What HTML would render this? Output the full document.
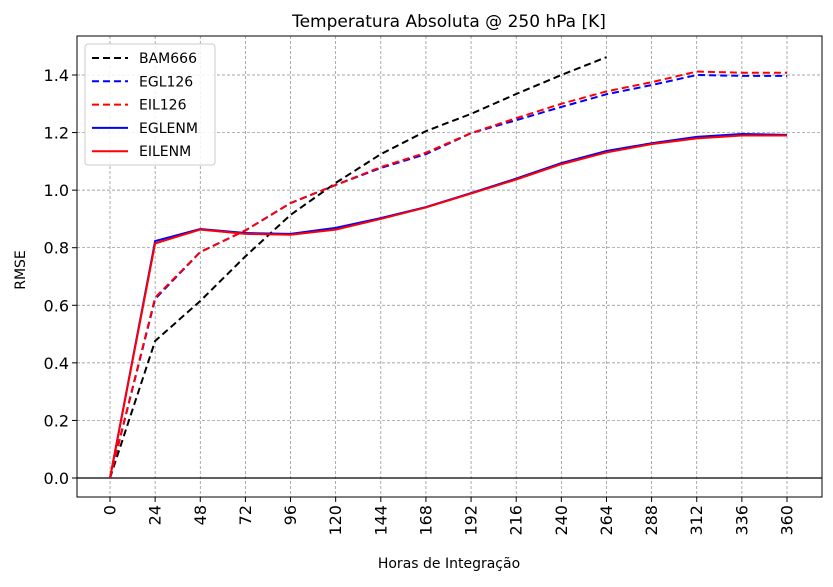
<!DOCTYPE html>
<html><head><meta charset="utf-8"><style>
body{margin:0;background:#fff;font-family:"Liberation Sans","DejaVu Sans",sans-serif}
svg text{font-family:"DejaVu Sans","Liberation Sans",sans-serif}
</style></head><body>
<svg id="c" width="833" height="582" xmlns="http://www.w3.org/2000/svg"></svg>
<script>
const hours=[0,24,48,72,96,120,144,168,192,216,240,264,288,312,336,360];
const yTicks=[0,0.2,0.4,0.6,0.8,1.0,1.2,1.4];
const bam666=[0,0.476,0.615,0.77,0.914,1.025,1.125,1.205,1.265,1.334,1.40,1.462];
const egl126=[0,0.622,0.785,0.86,0.955,1.018,1.077,1.125,1.198,1.243,1.289,1.333,1.365,1.40,1.397,1.397];
const eil126=[0,0.627,0.785,0.86,0.955,1.018,1.08,1.13,1.198,1.25,1.30,1.343,1.375,1.412,1.408,1.408];
const eglenm=[0,0.823,0.865,0.851,0.848,0.869,0.903,0.941,0.99,1.04,1.094,1.136,1.163,1.185,1.195,1.192];
const eilenm=[0,0.815,0.863,0.848,0.845,0.863,0.90,0.94,0.988,1.037,1.09,1.131,1.16,1.18,1.19,1.19];
const L=77,R=822,T=36,B=497;
const x=h=>110+h*(677/360);
const y=v=>478-v*287.86;
const svg=document.getElementById('c');
const NS='http://www.w3.org/2000/svg';
function el(tag,attrs,parent){const e=document.createElementNS(NS,tag);for(const k in attrs)e.setAttribute(k,attrs[k]);(parent||svg).appendChild(e);return e;}
// grid
hours.forEach(h=>{const g=el('line',{x1:x(h),x2:x(h),y1:T,y2:B,stroke:'#888','stroke-width':0.7,'stroke-dasharray':'3,2'});

});
yTicks.forEach(v=>{const g=el('line',{x1:L,x2:R,y1:y(v),y2:y(v),stroke:'#888','stroke-width':0.7,'stroke-dasharray':'3,2'});

});
const zl=el('line',{x1:L,x2:R,y1:y(0),y2:y(0),stroke:'#000','stroke-width':1.2});


// ticks
hours.forEach(h=>{el('line',{x1:x(h),x2:x(h),y1:B,y2:B+5,stroke:'#000'});
const t=el('text',{x:0,y:0,'font-size':16,'text-anchor':'end','dominant-baseline':'central',transform:`translate(${x(h)},${B+8}) rotate(-90)`});t.textContent=h;

});
yTicks.forEach(v=>{el('line',{x1:L-5,x2:L,y1:y(v),y2:y(v),stroke:'#000'});
const t=el('text',{x:L-8,y:y(v)+6,'font-size':16,'text-anchor':'end'});t.textContent=v.toFixed(1);

});
// series
const series=[[bam666,'#000',true,'series-bam666'],[egl126,'#00f',true,'series-egl126'],[eil126,'#f00',true,'series-eil126'],[eglenm,'#00f',false,'series-eglenm'],[eilenm,'#f00',false,'series-eilenm']];
series.forEach(([d,c,dash,n])=>{const p=el('polyline',{points:d.map((v,i)=>x(hours[i])+','+y(v)).join(' '),fill:'none',stroke:c,'stroke-width':2,'stroke-dasharray':dash?'7,4':'none'});

});
const fr=el('rect',{x:L,y:T,width:R-L,height:B-T,fill:'none',stroke:'#000','stroke-width':1});


// legend
const lg=el('g',{});


el('rect',{x:85,y:44,width:130,height:121,rx:3,fill:'#fff','fill-opacity':0.85,stroke:'#ccc'},lg);
const names=['BAM666','EGL126','EIL126','EGLENM','EILENM'];
series.forEach(([d,c,dash],i)=>{const yy=58+i*23.3;
el('line',{x1:92,x2:128,y1:yy,y2:yy,stroke:c,'stroke-width':2,'stroke-dasharray':dash?'7,4':'none'},lg);
const t=el('text',{x:139,y:yy+5,'font-size':14},lg);t.textContent=names[i];

});
// titles
const ti=el('text',{x:449,y:27,'font-size':17,'text-anchor':'middle'});ti.textContent='Temperatura Absoluta @ 250 hPa [K]';


const xl=el('text',{x:449,y:568,'font-size':14,'text-anchor':'middle'});xl.textContent='Horas de Integração';


const yl=el('text',{x:0,y:0,'font-size':14,'text-anchor':'middle',transform:'translate(25,270) rotate(-90)'});yl.textContent='RMSE';


</script>
</body></html>
